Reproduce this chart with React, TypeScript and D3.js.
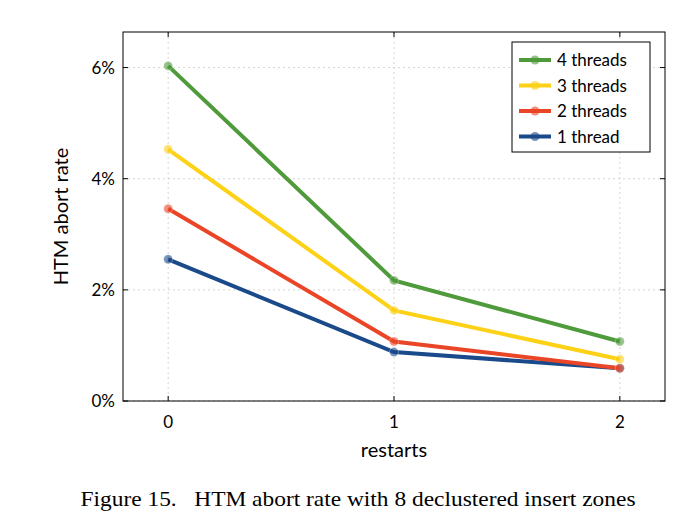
import * as d3 from "d3";

const xTicks = [0, 1, 2];
const yTicks = [0, 2, 4, 6];
const seriesNames = ["4 threads", "3 threads", "2 threads", "1 thread"];
const seriesColors = ["#4f9a3a", "#fcd116", "#ea4526", "#1b4a8a"];
const values4 = [6.03, 2.17, 1.07];
const values3 = [4.53, 1.63, 0.75];
const values2 = [3.46, 1.07, 0.59];
const values1 = [2.55, 0.88, 0.59];
const allValues = [values4, values3, values2, values1];

export default function App() {
  const W = 691, H = 531;
  const m = { left: 123, right: 665, top: 32, bottom: 401 };
  const x = d3.scaleLinear().domain([-0.2, 2.2]).range([m.left, m.right]);
  const y = d3.scaleLinear().domain([0, 6.64]).range([m.bottom, m.top]);
  const line = d3.line<number>().x((_, i) => x(i)).y((d) => y(d));
  const font = "Lato, 'Open Sans', sans-serif";

  // draw series from 1 thread up so 4 threads sits on top
  const order = [3, 2, 1, 0];

  return (
    <svg width={W} height={H} style={{ position: "absolute", left: 0, top: 0 }}>
      <rect width={W} height={H} fill="#fff" />
      {xTicks.map((t) => (
        <line key={"gx" + t} x1={x(t)} x2={x(t)} y1={m.top} y2={m.bottom} stroke="#ccc" strokeDasharray="2 3" strokeWidth={0.8} />
      ))}
      {yTicks.map((t) => (
        <line key={"gy" + t} x1={m.left} x2={m.right} y1={y(t)} y2={y(t)} stroke="#ccc" strokeDasharray="2 3" strokeWidth={0.8} />
      ))}
      <rect x={m.left} y={m.top} width={m.right - m.left} height={m.bottom - m.top} fill="none" stroke="#000" strokeWidth={1} />
      {xTicks.map((t) => (
        <g key={"tx" + t}>
          <line x1={x(t)} x2={x(t)} y1={m.bottom} y2={m.bottom - 5} stroke="#000" />
          <line x1={x(t)} x2={x(t)} y1={m.top} y2={m.top + 5} stroke="#000" />
          <text x={x(t)} y={m.bottom + 27} textAnchor="middle" fontSize={17} fontFamily={font}>{t}</text>
        </g>
      ))}
      {yTicks.map((t) => (
        <g key={"ty" + t}>
          <line x1={m.left} x2={m.left + 5} y1={y(t)} y2={y(t)} stroke="#000" />
          <line x1={m.right} x2={m.right - 5} y1={y(t)} y2={y(t)} stroke="#000" />
          <text x={m.left - 8} y={y(t) + 6} textAnchor="end" fontSize={17} fontFamily={font}>{t}%</text>
        </g>
      ))}
      <text x={x(1)} y={457} textAnchor="middle" fontSize={20} fontFamily={font}>restarts</text>
      <text transform={`translate(68,${(m.top + m.bottom) / 2}) rotate(-90)`} textAnchor="middle" fontSize={20} fontFamily={font}>HTM abort rate</text>
      {order.map((k) => (
        <g key={"s" + k}>
          <path d={line(allValues[k]) ?? ""} fill="none" stroke={seriesColors[k]} strokeWidth={4} />
          {allValues[k].map((v, i) => (
            <circle key={i} cx={x(i)} cy={y(v)} r={4.5} fill={seriesColors[k]} fillOpacity={0.6} stroke="#fff" strokeOpacity={0.3} />
          ))}
        </g>
      ))}
      <rect x={512} y={42} width={138} height={110} fill="#fff" stroke="#000" />
      {seriesNames.map((n, i) => (
        <g key={n}>
          <line x1={519} x2={551} y1={60 + i * 25.5} y2={60 + i * 25.5} stroke={seriesColors[i]} strokeWidth={4} />
          <circle cx={535} cy={60 + i * 25.5} r={4.5} fill={seriesColors[i]} fillOpacity={0.6} />
          <text x={557} y={66 + i * 25.5} fontSize={17} fontFamily={font}>{n}</text>
        </g>
      ))}
      <text x={358} y={506} textAnchor="middle" fontSize={21} fontFamily="'Liberation Serif', serif" textLength={555} lengthAdjust="spacingAndGlyphs">
        Figure 15.{"\u00a0\u00a0\u00a0"}HTM abort rate with 8 declustered insert zones
      </text>
    </svg>
  );
}
